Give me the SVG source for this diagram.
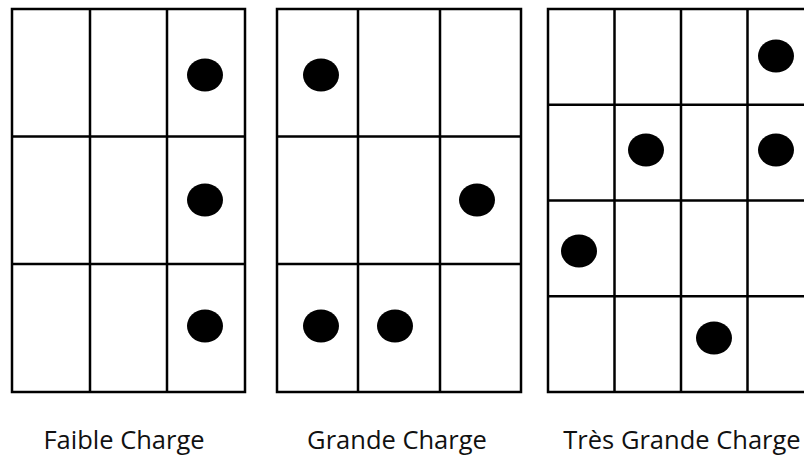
<svg xmlns="http://www.w3.org/2000/svg" width="804" height="458" viewBox="0 0 804 458">
<style>
.g{fill:none;stroke:#000;stroke-width:2.5}
.d{fill:#000}
.t{font-family:"Open Sans","Noto Sans",sans-serif;font-size:25.5px;fill:#111;text-anchor:middle}
</style>
<rect width="804" height="458" fill="#fff"/>
<g id="faible">
<rect class="g" x="12" y="9" width="233" height="383"/>
<path class="g" d="M90 9V392M167 9V392M12 136.5H245M12 264H245"/>
<ellipse class="d" cx="205" cy="75" rx="18" ry="16.5"/>
<ellipse class="d" cx="205" cy="200" rx="18" ry="16.5"/>
<ellipse class="d" cx="205" cy="326" rx="18" ry="16.5"/>
<text class="t" x="124" y="449">Faible Charge</text>
</g>
<g id="grande">
<rect class="g" x="277" y="9" width="244" height="383"/>
<path class="g" d="M358 9V392M440 9V392M277 136.5H521M277 264H521"/>
<ellipse class="d" cx="321" cy="75" rx="18" ry="16.5"/>
<ellipse class="d" cx="477" cy="200" rx="18" ry="16.5"/>
<ellipse class="d" cx="321" cy="326" rx="18" ry="16.5"/>
<ellipse class="d" cx="395" cy="326" rx="18" ry="16.5"/>
<text class="t" x="397" y="449">Grande Charge</text>
</g>
<g id="tres-grande">
<rect class="g" x="548" y="9" width="266" height="383"/>
<path class="g" d="M614.5 9V392M681 9V392M747.5 9V392M548 104.75H814M548 200.5H814M548 296.25H814"/>
<ellipse class="d" cx="776" cy="56" rx="18" ry="16.5"/>
<ellipse class="d" cx="646" cy="150" rx="18" ry="16.5"/>
<ellipse class="d" cx="776" cy="150" rx="18" ry="16.5"/>
<ellipse class="d" cx="579" cy="251" rx="18" ry="16.5"/>
<ellipse class="d" cx="714" cy="338" rx="18" ry="16.5"/>
<text class="t" x="682" y="449">Très Grande Charge</text>
</g>
</svg>
